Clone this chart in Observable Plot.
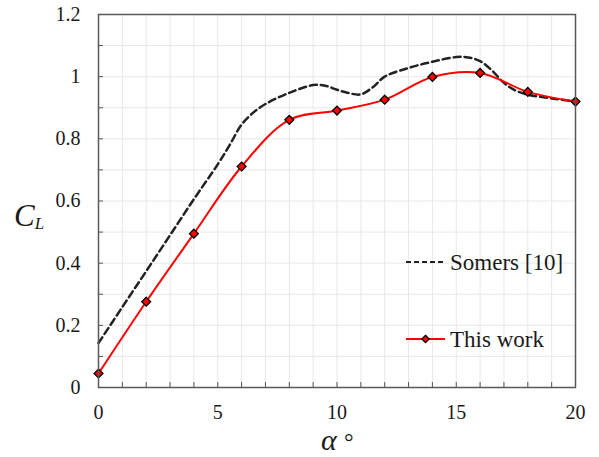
<!DOCTYPE html>
<html><head><meta charset="utf-8">
<script src="https://cdn.jsdelivr.net/npm/d3@7"></script>
<script src="https://cdn.jsdelivr.net/npm/@observablehq/plot@0.6"></script>
<style>body{margin:0;background:#fff} svg text{font-family:"Liberation Serif", serif !important;}</style>
</head><body><div id="chart"></div>
<script>
// ---- data ----
const alphaThisWork = [0, 2, 4, 6, 8, 10, 12, 14, 16, 18, 20];
const clThisWork = [0.045, 0.276, 0.495, 0.711, 0.861, 0.891, 0.926, 0.999, 1.012, 0.951, 0.920];

const alphaSomers = [0, 1, 2, 3, 4, 5, 5.5, 6, 6.5, 7, 8, 9, 9.5, 10, 10.5, 11, 11.5, 12, 13, 14, 15, 15.5, 16, 16.5, 17, 17.5, 18, 19, 20];
const clSomers = [0.143, 0.259, 0.374, 0.49, 0.606, 0.718, 0.78, 0.846, 0.885, 0.912, 0.948, 0.973, 0.971, 0.958, 0.947, 0.943, 0.966, 1.0, 1.028, 1.048, 1.063, 1.062, 1.05, 1.02, 0.98, 0.955, 0.942, 0.93, 0.92];

const seriesNames = ["Somers [10]", "This work"];
const xTickLabels = [0, 5, 10, 15, 20];
const yTickLabels = [0, 0.2, 0.4, 0.6, 0.8, 1, 1.2];
const xMinorTicks = [0,1,2,3,4,5,6,7,8,9,10,11,12,13,14,15,16,17,18,19,20];
const yMinorTicks = [0,0.1,0.2,0.3,0.4,0.5,0.6,0.7,0.8,0.9,1,1.1,1.2];
const xTitle = "α";
const yTitle = ["C", "L"];

// ---- build tables ----
const thisWork = alphaThisWork.map((a, i) => ({alpha: a, cl: clThisWork[i]}));
const somers = alphaSomers.map((a, i) => ({alpha: a, cl: clSomers[i]}));

const fontFamily = "Liberation Serif";
const textColor = "#1a1a1a";

function overlay(index, scales, values, dims) {
  const g = d3.create("svg:g").attr("font-family", fontFamily).attr("fill", textColor).attr("text-anchor", "start");
  // y title
  const yl = g.append("text").attr("x", 14).attr("y", 226).attr("font-size", 31).attr("font-style", "italic");
  yl.append("tspan").text(yTitle[0]);
  yl.append("tspan").attr("font-size", 17).attr("dy", 3).text(yTitle[1]);
  // x title
  const xl = g.append("text").attr("y", 450);
  xl.append("tspan").attr("x", 321).attr("font-size", 30).attr("font-style", "italic").text(xTitle);
  xl.append("tspan").attr("x", 344).attr("font-size", 24).text("°");
  // legend
  const lx0 = 406, lx1 = 445, tx = 450;
  const ySom = 262, yThis = 339;
  g.append("line").attr("x1", lx0).attr("x2", lx1).attr("y1", ySom).attr("y2", ySom)
    .attr("stroke", "#222").attr("stroke-width", 2).attr("stroke-dasharray", "5,3");
  g.append("text").attr("x", tx).attr("y", ySom).attr("dy", "0.33em").attr("font-size", 23).text(seriesNames[0]);
  g.append("line").attr("x1", lx0).attr("x2", lx1).attr("y1", yThis).attr("y2", yThis)
    .attr("stroke", "#ff0000").attr("stroke-width", 2);
  g.append("path").attr("d", d3.symbol(d3.symbolDiamond2, 36)())
    .attr("transform", `translate(${(lx0 + lx1) / 2},${yThis})`)
    .attr("fill", "#ff0000").attr("stroke", "#000").attr("stroke-width", 1.2);
  g.append("text").attr("x", tx).attr("y", yThis).attr("dy", "0.33em").attr("font-size", 23).text(seriesNames[1]);
  return g.node();
}

const chart = Plot.plot({
  width: 599,
  height: 457,
  marginLeft: 98,
  marginRight: 24,
  marginTop: 14,
  marginBottom: 70,
  x: {domain: [0, 20]},
  y: {domain: [0, 1.2]},
  style: {fontFamily, fontSize: "19px", color: textColor, background: "#fff"},
  marks: [
    Plot.gridX(xMinorTicks, {stroke: "#e8e8e8", strokeOpacity: 1}),
    Plot.gridY(yMinorTicks, {stroke: "#e8e8e8", strokeOpacity: 1}),
    Plot.axisX(xMinorTicks, {tickSize: 5, dy: -5, tickFormat: () => "", stroke: "#555", label: null}),
    Plot.axisX(xTickLabels, {tickSize: 0, tickPadding: 17, label: null, fontFamily, fontSize: 20}),
    Plot.axisY(yMinorTicks, {tickSize: 5, dx: 5, tickFormat: () => "", stroke: "#555", label: null}),
    Plot.axisY(yTickLabels, {tickSize: 0, tickPadding: 18, tickFormat: d => String(+d.toFixed(1)), label: null, fontFamily, fontSize: 20}),
    Plot.line(somers, {x: "alpha", y: "cl", curve: "catmull-rom", stroke: "#222", strokeWidth: 2.5, strokeDasharray: "7,4"}),
    Plot.line(thisWork, {x: "alpha", y: "cl", curve: "catmull-rom", stroke: "#ff0000", strokeWidth: 2}),
    Plot.dot(thisWork, {x: "alpha", y: "cl", symbol: "diamond2", r: 4, fill: "#ff0000", stroke: "#000", strokeWidth: 1.3}),
    Plot.frame({stroke: "#595959", strokeWidth: 1.5}),
    overlay
  ]
});
chart.querySelectorAll("text").forEach(el => {
  el.setAttribute("font-family", fontFamily);
  el.style.fontFamily = "'Liberation Serif', serif";
  el.style.fontVariant = "normal";
});
document.getElementById("chart").append(chart);
</script>
</body></html>
